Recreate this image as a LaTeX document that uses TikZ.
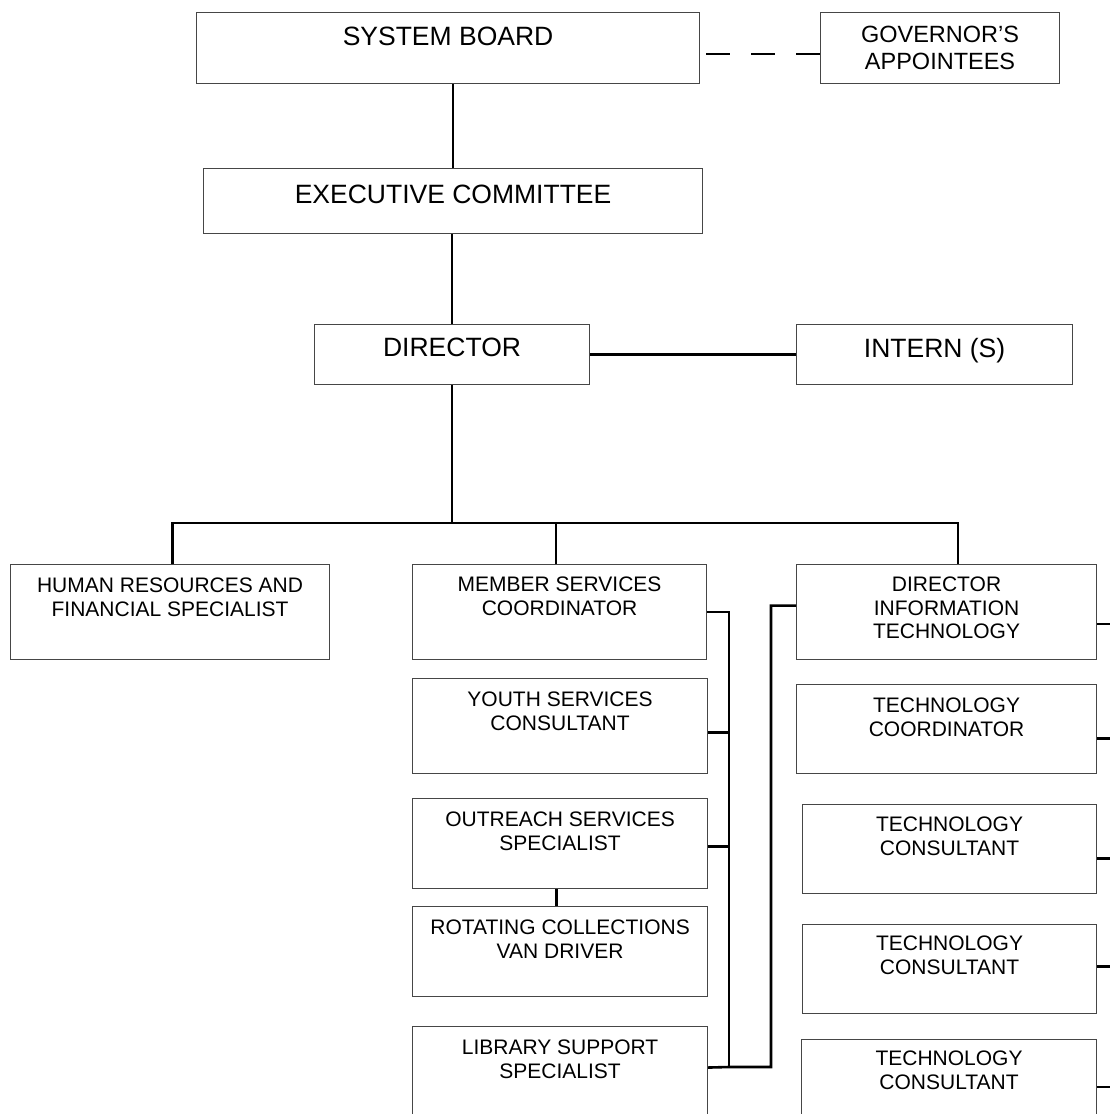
\documentclass[tikz,border=0pt]{standalone}
\usepackage{fontspec}
\setmainfont{Liberation Sans}
\usepackage{tikz}
\usepackage{xcolor}
\definecolor{boxgray}{RGB}{70,70,70}
\tikzstyle{orgbox} = [draw=boxgray, line width=1.1pt, anchor=north west, inner sep=0pt]
\tikzstyle{bigtext} = [anchor=north, inner sep=0pt, align=center, font=\fontsize{26.5}{30}\selectfont]
\tikzstyle{midtext} = [anchor=north, inner sep=0pt, align=center, font=\fontsize{23.5}{27}\selectfont]
\tikzstyle{smalltext} = [anchor=north, inner sep=0pt, align=center, font=\fontsize{21}{23.5}\selectfont]
\tikzstyle{link} = [line width=2.6pt, color=black]
\tikzstyle{dashlink} = [line width=2pt, color=black, dash pattern=on 24pt off 21pt, dash phase=39pt]

\begin{document}
\begin{tikzpicture}[x=1pt, y=-1pt]
\useasboundingbox (0,0) rectangle (1110,1114);

% top of the chart
\node[orgbox, minimum width=503pt, minimum height=71pt, label={[bigtext, yshift=-15pt]north:{SYSTEM BOARD}}] (sb) at (196,12) {};
\node[orgbox, minimum width=239pt, minimum height=71pt, label={[midtext, yshift=-14pt]north:{GOVERNOR’S\\APPOINTEES}}] (gov) at (820,12) {};
\node[orgbox, minimum width=499pt, minimum height=65pt, label={[bigtext, yshift=-17pt]north:{EXECUTIVE COMMITTEE}}] (ec) at (203,168) {};
\node[orgbox, minimum width=275pt, minimum height=60pt, label={[bigtext, yshift=-14pt]north:{DIRECTOR}}] (dir) at (314,324) {};
\node[orgbox, minimum width=276pt, minimum height=60pt, label={[bigtext, yshift=-14pt]north:{INTERN (S)}}] (intern) at (796,324) {};

% staff row
\node[orgbox, minimum width=319pt, minimum height=95pt, label={[smalltext, yshift=-14pt]north:{HUMAN RESOURCES AND\\FINANCIAL SPECIALIST}}] (hr) at (10,564) {};
\node[orgbox, minimum width=294pt, minimum height=95pt, label={[smalltext, yshift=-13pt]north:{MEMBER SERVICES\\COORDINATOR}}] (msc) at (412,564) {};
\node[orgbox, minimum width=300pt, minimum height=95pt, label={[smalltext, yshift=-13pt]north:{DIRECTOR\\INFORMATION\\TECHNOLOGY}}] (dit) at (796,564) {};

% member services column
\node[orgbox, minimum width=295pt, minimum height=95pt, label={[smalltext, yshift=-14pt]north:{YOUTH SERVICES\\CONSULTANT}}] (ysc) at (412,678) {};
\node[orgbox, minimum width=295pt, minimum height=90pt, label={[smalltext, yshift=-14pt]north:{OUTREACH SERVICES\\SPECIALIST}}] (oss) at (412,798) {};
\node[orgbox, minimum width=295pt, minimum height=90pt, label={[smalltext, yshift=-14pt]north:{ROTATING COLLECTIONS\\VAN DRIVER}}] (rcv) at (412,906) {};
\node[orgbox, minimum width=295pt, minimum height=95pt, label={[smalltext, yshift=-14pt]north:{LIBRARY SUPPORT\\SPECIALIST}}] (lss) at (412,1026) {};

% technology column
\node[orgbox, minimum width=300pt, minimum height=89pt, label={[smalltext, yshift=-14pt]north:{TECHNOLOGY\\COORDINATOR}}] (tc) at (796,684) {};
\node[orgbox, minimum width=294pt, minimum height=89pt, label={[smalltext, yshift=-13pt]north:{TECHNOLOGY\\CONSULTANT}}] (tc1) at (802,804) {};
\node[orgbox, minimum width=294pt, minimum height=89pt, label={[smalltext, yshift=-12pt]north:{TECHNOLOGY\\CONSULTANT}}] (tc2) at (802,924) {};
\node[orgbox, minimum width=295pt, minimum height=95pt, label={[smalltext, yshift=-12pt]north:{TECHNOLOGY\\CONSULTANT}}] (tc3) at (801,1039) {};

% connectors
\draw[link] (ec.north) -- (ec.north |- sb.south);
\draw[dashlink] ([yshift=-5.5pt]sb.east) -- ([yshift=-5.5pt]gov.west);
\draw[link] (dir.north) -- (dir.north |- ec.south);
\draw[link] (dir.east) -- (intern.west);
\draw[link] (dir.south) -- ++(0,138) coordinate (bar);
\draw[link] ([xshift=2.5pt]hr.north) |- (bar) -| ([xshift=11.5pt]dit.north);
\draw[link] ([xshift=-3.5pt]msc.north) |- (bar);
\draw[link] ([xshift=-3.5pt]oss.south) -- ([xshift=-3.5pt]rcv.north);

\coordinate (lsp) at (729,1067);
\draw[link] (msc.east) -| (lsp);
\draw[link] ([yshift=-6.5pt]ysc.east) -- ++(22,0);
\draw[link] ([yshift=-3pt]oss.east) -- ++(22,0);
\draw[link] ([yshift=6.5pt]lss.east) -- (lsp) -- ++(42,0) |- ([yshift=6.5pt]dit.west);

\foreach \n/\s in {dit/-12, tc/-9.5, tc1/-9.5, tc2/2.5, tc3/0}
  \draw[link] ([yshift=\s pt]\n.east) -- ++(20,0);
\end{tikzpicture}
\end{document}
